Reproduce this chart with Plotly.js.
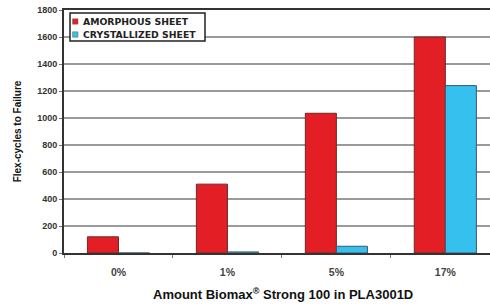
<!DOCTYPE html>
<html>
<head>
<meta charset="utf-8">
<script src="https://cdn.plot.ly/plotly-3.0.1.min.js"></script>
<style>html,body{margin:0;padding:0;background:#fff;}#chart{width:490px;height:304px;}</style>
</head>
<body>
<div id="chart"></div>
<script>
var categories = ["0%", "1%", "5%", "17%"];
var amorphous = [120, 510, 1035, 1600];
var crystallized = [0, 8, 50, 1240];
var seriesNames = ["AMORPHOUS SHEET", "CRYSTALLIZED SHEET"];
var seriesColors = ["#e31e24", "#35c0ed"];
var yTicks = [0, 200, 400, 600, 800, 1000, 1200, 1400, 1600, 1800];
var xTitle = "Amount Biomax<sup>®</sup> Strong 100 in PLA3001D";
var yTitle = "Flex-cycles to Failure";

var fontFam = "Liberation Sans, Arial, sans-serif";
var wideFam = "DejaVu Sans, Verdana, sans-serif";
var W = 490, H = 304, L = 64, R = 0, T = 10, B = 51;
function px(x) { return (x - L) / (W - L - R); }
function py(y) { return (H - B - y) / (H - T - B); }
function b(s) { return "<b>" + s + "</b>"; }

var traces = [
  {type: "bar", name: seriesNames[0], x: categories, y: amorphous, showlegend: false,
   marker: {color: seriesColors[0], line: {color: "#6a2a2a", width: 1}}},
  {type: "bar", name: seriesNames[1], x: categories, y: crystallized, showlegend: false,
   marker: {color: seriesColors[1], line: {color: "#3a5a6a", width: 1}}}
];

// custom compact legend (box, swatches, labels)
var shapes = [
  {type: "rect", xref: "paper", yref: "paper", x0: px(70), x1: px(205), y0: py(41), y1: py(13),
   line: {color: "#222", width: 1.5}, fillcolor: "#fff", layer: "above"}
];
var annotations = [];
seriesNames.forEach(function (n, i) {
  var cy = 21.5 + i * 13;
  shapes.push({type: "rect", xref: "paper", yref: "paper", x0: px(72.5), x1: px(78), y0: py(cy + 2.7), y1: py(cy - 2.7),
               line: {color: "#666", width: 0.5}, fillcolor: seriesColors[i], layer: "above"});
  annotations.push({xref: "paper", yref: "paper", x: px(81), y: py(cy), xanchor: "left", yanchor: "middle",
                    showarrow: false, text: b(n), font: {family: wideFam, size: 9.3, color: "#222"}});
});
annotations.push({xref: "paper", yref: "paper", x: px(283), y: py(294), xanchor: "center", yanchor: "middle",
                  showarrow: false, text: b(xTitle), font: {family: fontFam, size: 13, color: "#111"}});

var layout = {
  width: W, height: H,
  margin: {l: L, r: R, t: T, b: B},
  paper_bgcolor: "#fff", plot_bgcolor: "#fff",
  barmode: "group", bargap: 0.43, bargroupgap: 0,
  showlegend: false,
  font: {family: fontFam, size: 8, color: "#333"},
  xaxis: {type: "category", range: [-0.5, 3.41], showline: true, linecolor: "#333", linewidth: 2,
          mirror: true, ticks: "outside", tickson: "boundaries", ticklen: 3, tickcolor: "#777",
          tickvals: categories, ticktext: categories.map(b),
          tickfont: {family: fontFam, size: 10.5, color: "#444"}, ticklabelstandoff: 8},
  yaxis: {range: [0, 1800], tickvals: yTicks, ticktext: yTicks.map(function (v) { return b(String(v)); }),
          showline: true, linecolor: "#333", linewidth: 2,
          showgrid: true, gridcolor: "#9a9a9a", gridwidth: 1.5, zeroline: false,
          ticks: "outside", ticklen: 3, tickcolor: "#777",
          tickfont: {family: fontFam, size: 9, color: "#333"},
          title: {text: b(yTitle), standoff: 14,
                  font: {family: fontFam, size: 10, color: "#111"}}},
  shapes: shapes,
  annotations: annotations
};
Plotly.newPlot("chart", traces, layout, {displayModeBar: false, staticPlot: true});
</script>
</body>
</html>
